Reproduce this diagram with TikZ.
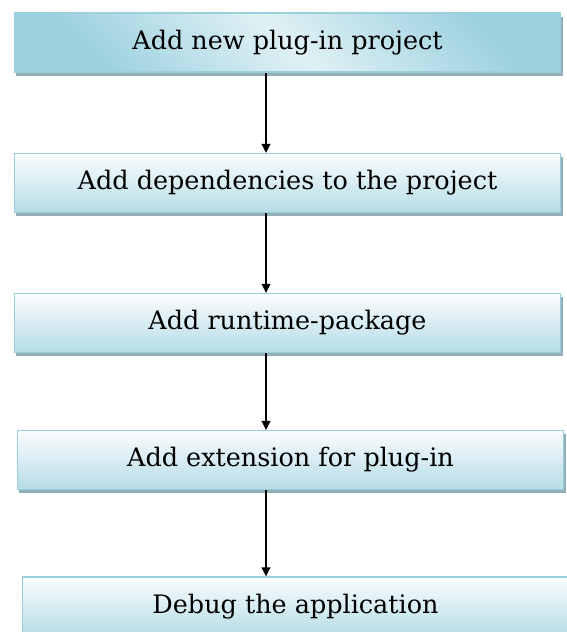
\documentclass[tikz,border=0pt]{standalone}
\usepackage{fontspec}
\setmainfont{DejaVu Serif}
\usepackage{xcolor}
\usepackage{tikz}
\usetikzlibrary{arrows.meta,shadows}
\definecolor{edge}{HTML}{9CCFDC}
\definecolor{pale}{HTML}{FAFDFE}
\definecolor{sky}{HTML}{B5DCE6}
\definecolor{deep}{HTML}{9BD0DE}
\definecolor{lite}{HTML}{E0F1F5}
\definecolor{shade}{HTML}{92AEB7}
\tikzset{
  box/.style={draw=edge, line width=0.6pt, minimum width=10.94cm, minimum height=1.18cm,
    inner sep=0pt, font=\fontsize{14.5}{17}\selectfont, top color=pale, bottom color=sky,
    drop shadow={shadow xshift=1.3pt, shadow yshift=-2pt, fill=shade, opacity=1}},
  first/.style={box, top color=deep, bottom color=deep, middle color=lite, shading angle=-45},
  arr/.style={draw=black, line width=0.8pt, -{Triangle[length=5.2pt,width=5pt]}},
}
\begin{document}
\begin{tikzpicture}[x=0.02cm, y=-0.02cm]
  \useasboundingbox (0,0) rectangle (566,632);
  \node[first] (add) at (287.5,42.5) {Add new plug-in project};
  \node[box] (deps) at (287.5,183) {Add dependencies to the project};
  \node[box] (runtime) at (287.5,323) {Add runtime-package};
  \node[box] (ext) at (290.5,460) {Add extension for plug-in};
  \node[box] (debug) at (295.5,606.5) {Debug the application};
  \coordinate (axis) at (266,0); % arrows sit left of centre
  \foreach \a/\b in {add/deps,deps/runtime,runtime/ext,ext/debug}
    \draw[arr] (\a.south -| axis) -- (\b.north -| axis);
\end{tikzpicture}
\end{document}
